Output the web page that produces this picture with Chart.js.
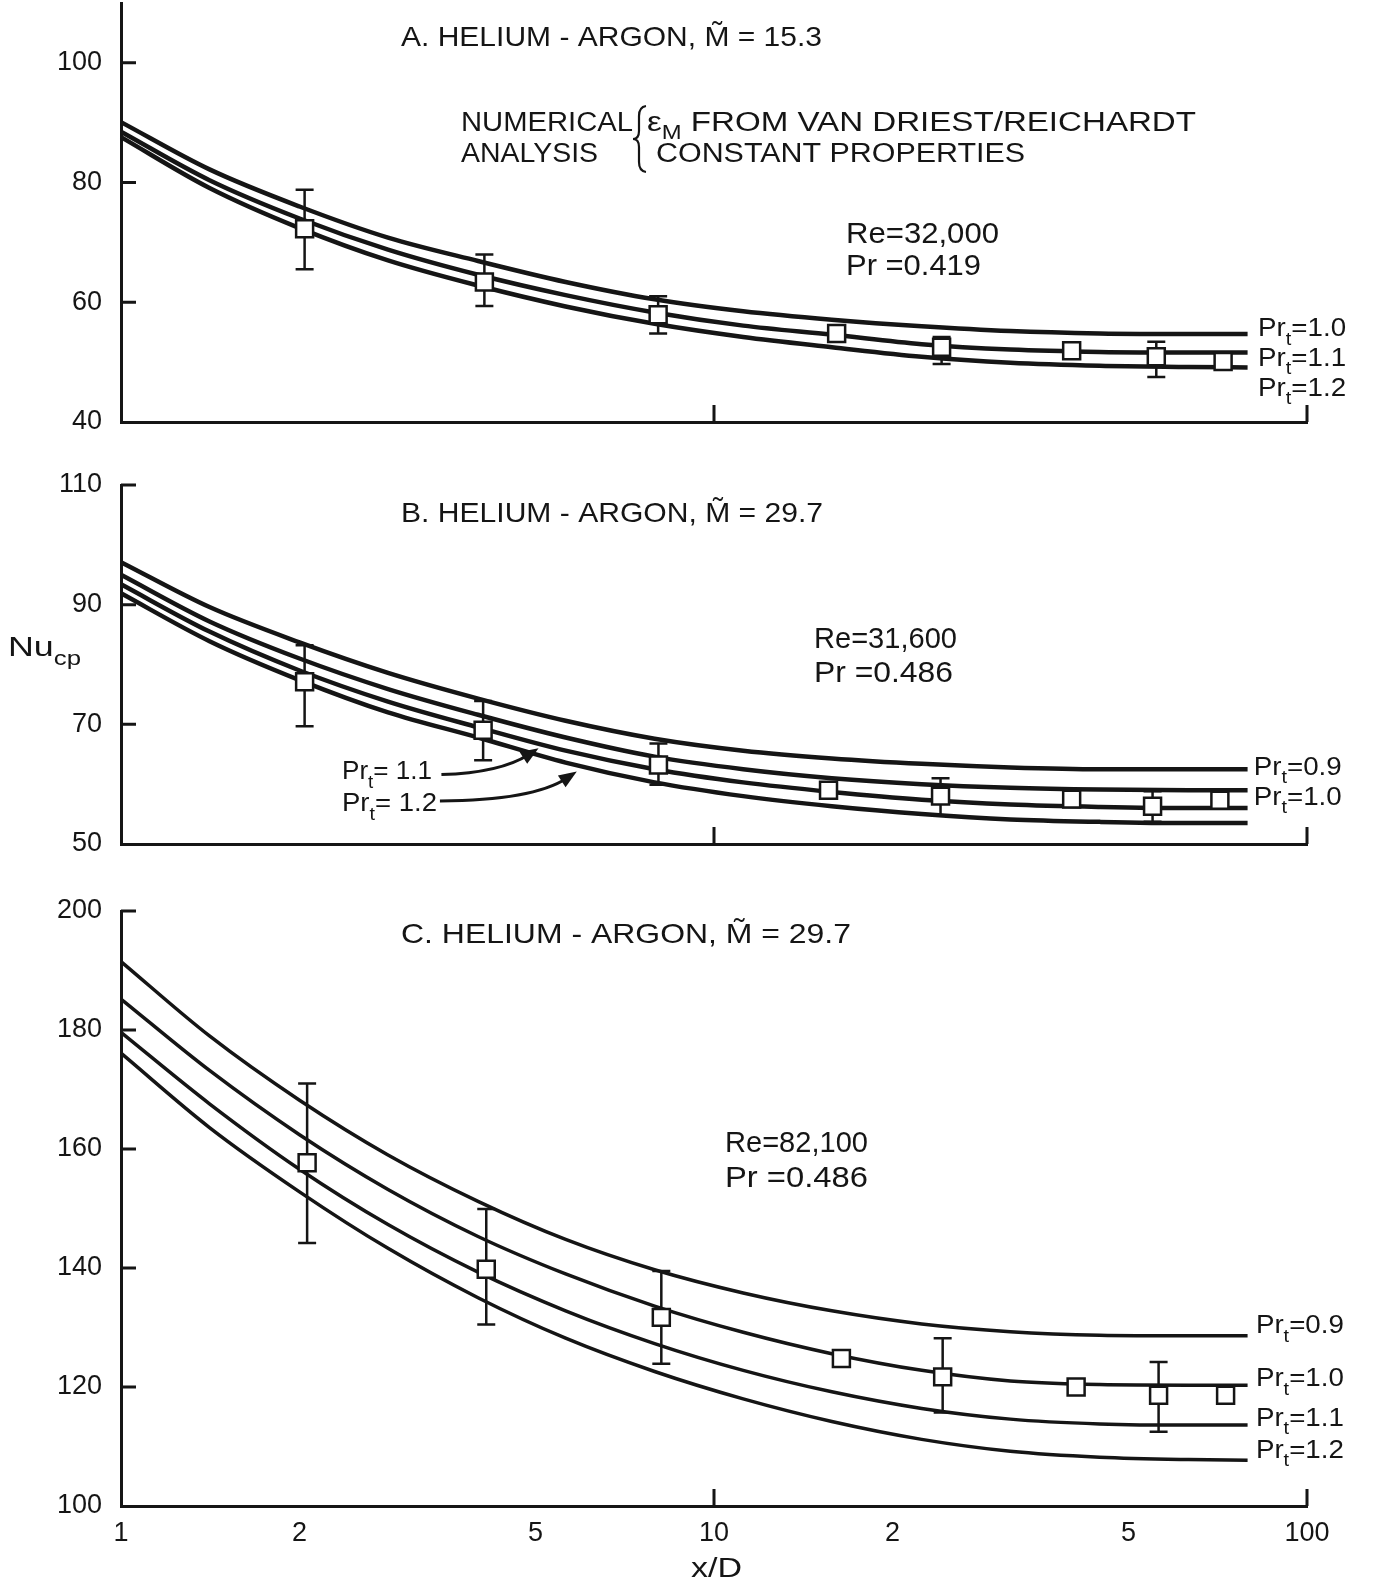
<!DOCTYPE html>
<html>
<head>
<meta charset="utf-8">
<title>Nu_cp against x/D, helium-argon</title>
<script src="https://cdn.jsdelivr.net/npm/chart.js@4.4.1/dist/chart.umd.min.js"></script>
<style>
  html, body { margin: 0; padding: 0; background: #fff; }
  #page { position: relative; width: 1376px; height: 1583px; overflow: hidden; }
  #page canvas { position: absolute; left: 0; top: -40px; }
</style>
</head>
<body>
<div id="page">
  <canvas id="panelA" width="1376" height="1623"></canvas>
  <canvas id="panelB" width="1376" height="1623"></canvas>
  <canvas id="panelC" width="1376" height="1623"></canvas>
</div>
<script>
const xCurve = [1, 1.41, 2, 2.82, 4, 5.62, 7.94, 11.2, 15.8, 22.4, 31.6, 44.7, 63.1, 79.4];

const xTickValues = [1, 2, 5, 10, 20, 50, 100];
const xTickLabels = ['1', '2', '5', '10', '2', '5', '100'];

// A. helium-argon, M = 15.3, Re = 32,000
const aTicks = [40, 60, 80, 100];
const aPrtNames = ['1.0', '1.1', '1.2'];
const aPrt10 = [90.1, 82.2, 76.0, 70.8, 66.9, 63.4, 60.5, 58.5, 57.1, 56.0, 55.2, 54.8, 54.7, 54.7];
const aPrt11 = [88.5, 80.4, 74.0, 68.8, 64.6, 61.2, 58.3, 56.1, 54.6, 53.0, 52.1, 51.7, 51.6, 51.6];
const aPrt12 = [87.6, 79.1, 72.4, 67.0, 62.8, 59.3, 56.4, 54.2, 52.5, 50.9, 49.9, 49.4, 49.2, 49.1];
const aDataX  = [2.04, 4.1, 8.05, 16.1, 24.2, 40.1, 55.7, 72.2];
const aDataNu = [72.3, 63.4, 57.9, 54.8, 52.5, 51.9, 50.9, 50.1];
const aErrHi  = [78.8, 68.0, 61.0, null, 54.2, null, 53.4, null];
const aErrLo  = [65.5, 59.4, 54.8, null, 49.7, null, 47.5, null];

// B. helium-argon, M = 29.7, Re = 31,600
const bTicks = [50, 70, 90, 110];
const bPrtNames = ['0.9', '1.0'];
const bPrt09 = [97.1, 89.6, 83.7, 78.6, 74.3, 70.6, 67.6, 65.6, 64.3, 63.4, 62.8, 62.5, 62.5, 62.5];
const bPrt10 = [95.0, 87.2, 81.0, 75.9, 71.6, 67.8, 64.6, 62.5, 61.0, 60.0, 59.4, 59.1, 59.0, 59.0];
const bPrt11 = [93.4, 85.5, 79.0, 73.8, 69.5, 65.6, 62.5, 60.3, 58.7, 57.4, 56.6, 56.2, 56.0, 56.0];
const bPrt12 = [91.9, 83.9, 77.4, 72.0, 67.8, 63.6, 60.3, 58.0, 56.3, 55.0, 54.1, 53.7, 53.5, 53.5];
const bDataX  = [2.04, 4.08, 8.06, 15.6, 24.1, 40.1, 54.9, 71.3];
const bDataNu = [77.1, 69.0, 63.2, 59.0, 58.0, 57.5, 56.3, 57.3];
const bErrHi  = [83.2, 73.9, 66.8, null, 61.0, null, 58.8, 58.9];
const bErrLo  = [69.7, 64.0, 59.9, null, 54.8, null, 53.7, null];

// C. helium-argon, M = 29.7, Re = 82,100
const cTicks = [100, 120, 140, 160, 180, 200];
const cPrtNames = ['0.9', '1.0', '1.1', '1.2'];
const cPrt09 = [191.5, 179.0, 168.2, 159.0, 151.2, 144.8, 139.7, 135.8, 132.8, 130.6, 129.3, 128.7, 128.6, 128.6];
const cPrt10 = [185.2, 173.2, 162.4, 153.2, 145.3, 139.0, 133.6, 129.2, 125.6, 122.8, 121.0, 120.4, 120.3, 120.3];
const cPrt11 = [179.6, 167.6, 156.6, 147.3, 139.3, 132.8, 127.3, 122.8, 119.2, 116.4, 114.6, 113.8, 113.6, 113.6];
const cPrt12 = [176.1, 163.6, 152.8, 143.3, 135.0, 128.2, 122.6, 118.0, 114.2, 111.2, 109.2, 108.2, 107.8, 107.7];
const cDataX  = [2.06, 4.13, 8.15, 16.4, 24.3, 40.8, 56.2, 72.9];
const cDataNu = [157.7, 139.8, 131.7, 124.8, 121.7, 120.0, 118.6, 118.6];
const cErrHi  = [171.0, 149.9, 139.5, null, 128.2, null, 124.2, null];
const cErrLo  = [144.2, 130.5, 123.9, null, 115.7, null, 112.5, null];

const INK = '#151515';
const FONT = '"Liberation Sans", Arial, sans-serif';
const PAGE_H = 1583;
const OFF = 40;   // canvases start 40px above the page so the top tick label has room

// draw a run of text pieces ([text, isSubscript]); y is the middle of the capitals,
// w squeezes/stretches the whole run to the lettered width
function drawRich(ctx, segs, x, y, size, w) {
  let nat = 0;
  const parts = segs.map(([t, sub]) => {
    const fs = sub ? size * 0.72 : size;
    ctx.font = fs + 'px ' + FONT;
    const tw = ctx.measureText(t).width;
    nat += tw;
    return { t, fs, tw, dy: sub ? size * 0.32 : 0 };
  });
  const sx = w ? w / nat : 1;
  ctx.save();
  ctx.fillStyle = INK;
  ctx.textAlign = 'left';
  ctx.textBaseline = 'alphabetic';
  ctx.translate(x, y + size * 0.36);
  ctx.scale(sx, 1);
  let cx = 0;
  parts.forEach(p => {
    ctx.font = p.fs + 'px ' + FONT;
    ctx.fillText(p.t, cx, p.dy);
    cx += p.tw;
  });
  ctx.restore();
}

const prt = v => [['Pr', 0], ['t', 1], ['=' + v, 0]];

const extras = {
  panelA: {
    notes: [
      { segs: [['A. HELIUM - ARGON, M\u0303 = 15.3', 0]], x: 401, y: 36, size: 28, w: 421 },
      { segs: [['NUMERICAL', 0]], x: 461, y: 121, size: 27, w: 172 },
      { segs: [['ANALYSIS', 0]], x: 461, y: 152, size: 27, w: 137 },
      { segs: [['\u03b5', 0], ['M', 1], [' FROM VAN DRIEST/REICHARDT', 0]], x: 647, y: 121, size: 27, w: 549 },
      { segs: [['CONSTANT PROPERTIES', 0]], x: 656, y: 152, size: 27, w: 369 },
      { segs: [['Re=32,000', 0]], x: 846, y: 232, size: 30, w: 153 },
      { segs: [['Pr =0.419', 0]], x: 846, y: 264, size: 30, w: 135 }
    ],
    brace: { x: 633, top: 106, bottom: 172 },
    names: aPrtNames, nameX: 82.7, nameY: [55.9, 51.0, 45.9]
  },
  panelB: {
    notes: [
      { segs: [['B. HELIUM - ARGON, M\u0303 = 29.7', 0]], x: 401, y: 512, size: 28, w: 422 },
      { segs: [['Re=31,600', 0]], x: 814, y: 637, size: 30, w: 143 },
      { segs: [['Pr =0.486', 0]], x: 814, y: 671, size: 30, w: 139 },
      { segs: [['Nu', 0], ['cp', 1]], x: 8, y: 646, size: 28, w: 73 },
      { segs: prt(' 1.1'), x: 342, y: 770, size: 26, w: 90 },
      { segs: prt(' 1.2'), x: 342, y: 802, size: 26, w: 95 }
    ],
    arrows: [
      { from: [3.47, 61.6], ctrl: [4.36, 61.9], to: [5.06, 66.0] },
      { from: [3.45, 57.2], ctrl: [4.95, 57.3], to: [5.87, 62.1] }
    ],
    names: bPrtNames, nameX: 81.3, nameY: [63.1, 58.1]
  },
  panelC: {
    notes: [
      { segs: [['C. HELIUM - ARGON, M\u0303 = 29.7', 0]], x: 401, y: 933, size: 28, w: 450 },
      { segs: [['Re=82,100', 0]], x: 725, y: 1141, size: 30, w: 143 },
      { segs: [['Pr =0.486', 0]], x: 725, y: 1176, size: 30, w: 143 },
      { segs: [['x/D', 0]], x: 691, y: 1567, size: 28, w: 51 }
    ],
    names: cPrtNames, nameX: 82, nameY: [130.6, 121.7, 115.0, 109.7]
  }
};

const paper = {
  id: 'paper',
  beforeDatasetsDraw(chart) {
    const p = extras[chart.canvas.id];
    const { ctx } = chart, xs = chart.scales.x, ys = chart.scales.y;
    ctx.save();
    ctx.strokeStyle = INK;
    ctx.lineWidth = 2.5;
    p.px.forEach((xv, i) => {
      const x = xs.getPixelForValue(xv);
      const yc = ys.getPixelForValue(p.py[i]);
      [p.hi[i], p.lo[i]].forEach(v => {
        if (v === null) return;
        const y = ys.getPixelForValue(v);
        ctx.beginPath();
        ctx.moveTo(x, yc);
        ctx.lineTo(x, y);
        ctx.moveTo(x - 9, y);
        ctx.lineTo(x + 9, y);
        ctx.stroke();
      });
    });
    ctx.restore();
  },
  afterDraw(chart) {
    const p = extras[chart.canvas.id];
    const { ctx, chartArea: ca } = chart, xs = chart.scales.x, ys = chart.scales.y;
    ctx.save();
    ctx.strokeStyle = INK;
    ctx.fillStyle = INK;
    // inward tick marks
    ctx.lineWidth = 3;
    ctx.beginPath();
    p.yTicks.forEach(v => {
      if (v === ys.min) return;
      const y = ys.getPixelForValue(v);
      ctx.moveTo(ca.left, y);
      ctx.lineTo(ca.left + 15, y);
    });
    [10, 100].forEach(v => {
      const x = xs.getPixelForValue(v);
      ctx.moveTo(x, ca.bottom);
      ctx.lineTo(x, ca.bottom - 17);
    });
    ctx.stroke();

    // curve names at the right end
    p.names.forEach((n, i) => {
      drawRich(ctx, prt(n), xs.getPixelForValue(p.nameX), ys.getPixelForValue(p.nameY[i]), 26, 88);
    });

    // curved pointers in panel B
    (p.arrows || []).forEach(a => {
      const P = q => [xs.getPixelForValue(q[0]), ys.getPixelForValue(q[1])];
      const s = P(a.from), c = P(a.ctrl), t = P(a.to);
      const ang = Math.atan2(t[1] - c[1], t[0] - c[0]);
      const back = [t[0] - 12 * Math.cos(ang), t[1] - 12 * Math.sin(ang)];
      ctx.lineWidth = 3;
      ctx.beginPath();
      ctx.moveTo(s[0], s[1]);
      ctx.quadraticCurveTo(c[0], c[1], back[0], back[1]);
      ctx.stroke();
      ctx.beginPath();
      ctx.moveTo(t[0], t[1]);
      ctx.lineTo(t[0] - 18 * Math.cos(ang) + 7 * Math.sin(ang), t[1] - 18 * Math.sin(ang) - 7 * Math.cos(ang));
      ctx.lineTo(t[0] - 18 * Math.cos(ang) - 7 * Math.sin(ang), t[1] - 18 * Math.sin(ang) + 7 * Math.cos(ang));
      ctx.closePath();
      ctx.fill();
    });

    // page-positioned lettering
    ctx.translate(0, OFF);
    if (p.brace) {
      const b = p.brace, m = (b.top + b.bottom) / 2;
      ctx.lineWidth = 2.2;
      ctx.beginPath();
      ctx.moveTo(b.x + 13, b.top);
      ctx.quadraticCurveTo(b.x + 6, b.top + 1, b.x + 6, b.top + 10);
      ctx.lineTo(b.x + 6, m - 8);
      ctx.quadraticCurveTo(b.x + 6, m, b.x, m);
      ctx.quadraticCurveTo(b.x + 6, m, b.x + 6, m + 8);
      ctx.lineTo(b.x + 6, b.bottom - 10);
      ctx.quadraticCurveTo(b.x + 6, b.bottom - 1, b.x + 13, b.bottom);
      ctx.stroke();
    }
    p.notes.forEach(n => drawRich(ctx, n.segs, n.x, n.y, n.size, n.w));
    ctx.restore();
  }
};

function makePanel(id, cfg) {
  Object.assign(extras[id], {
    px: cfg.dataX, py: cfg.dataNu, hi: cfg.errHi, lo: cfg.errLo, yTicks: cfg.yTicks
  });
  const xh = cfg.showX ? 50 : 10;
  const tickFont = { family: FONT, size: 27 };
  const datasets = cfg.curves.map(arr => ({
    data: xCurve.map((x, i) => ({ x, y: arr[i] })),
    showLine: true,
    borderColor: INK,
    borderWidth: cfg.lw,
    pointRadius: 0,
    cubicInterpolationMode: 'monotone',
    clip: false,
    order: 2
  }));
  datasets.push({
    data: cfg.dataX.map((x, i) => ({ x, y: cfg.dataNu[i] })),
    showLine: false,
    pointStyle: 'rect',
    pointRadius: 12,
    pointBackgroundColor: '#fff',
    pointBorderColor: INK,
    pointBorderWidth: 2.5,
    clip: false,
    order: 0
  });
  return new Chart(document.getElementById(id), {
    type: 'scatter',
    data: { datasets },
    plugins: [paper],
    options: {
      responsive: false,
      animation: false,
      devicePixelRatio: 1,
      events: [],
      layout: { padding: { left: 0, right: 69, top: cfg.top + OFF, bottom: PAGE_H - cfg.bottom - xh } },
      plugins: { legend: { display: false }, tooltip: { enabled: false } },
      scales: {
        x: {
          type: 'logarithmic',
          min: 1,
          max: 100,
          grid: { display: false, drawTicks: false },
          border: { display: true, color: INK, width: 3 },
          ticks: {
            display: cfg.showX,
            autoSkip: false,
            maxRotation: 0,
            padding: 11,
            color: INK,
            font: tickFont,
            callback: (v, i) => xTickLabels[i]
          },
          afterBuildTicks: s => { s.ticks = xTickValues.map(v => ({ value: v })); },
          afterFit: s => { s.height = xh; s.paddingLeft = 0; s.paddingRight = 0; }
        },
        y: {
          type: 'linear',
          min: cfg.yMin,
          max: cfg.yMax,
          grid: { display: false, drawTicks: false },
          border: { display: true, color: INK, width: 3 },
          ticks: { padding: 19, color: INK, font: tickFont, autoSkip: false },
          afterBuildTicks: s => { s.ticks = cfg.yTicks.map(v => ({ value: v })); },
          afterFit: s => { s.width = 121; s.paddingTop = 0; s.paddingBottom = 0; }
        }
      }
    }
  });
}

makePanel('panelA', {
  yMin: 40, yMax: 110, yTicks: aTicks, top: 3, bottom: 422, lw: 4.5, showX: false,
  curves: [aPrt10, aPrt11, aPrt12],
  dataX: aDataX, dataNu: aDataNu, errHi: aErrHi, errLo: aErrLo
});
makePanel('panelB', {
  yMin: 50, yMax: 110, yTicks: bTicks, top: 485, bottom: 844, lw: 4.5, showX: false,
  curves: [bPrt09, bPrt10, bPrt11, bPrt12],
  dataX: bDataX, dataNu: bDataNu, errHi: bErrHi, errLo: bErrLo
});
makePanel('panelC', {
  yMin: 100, yMax: 200, yTicks: cTicks, top: 911, bottom: 1506, lw: 3.5, showX: true,
  curves: [cPrt09, cPrt10, cPrt11, cPrt12],
  dataX: cDataX, dataNu: cDataNu, errHi: cErrHi, errLo: cErrLo
});
</script>
</body>
</html>
